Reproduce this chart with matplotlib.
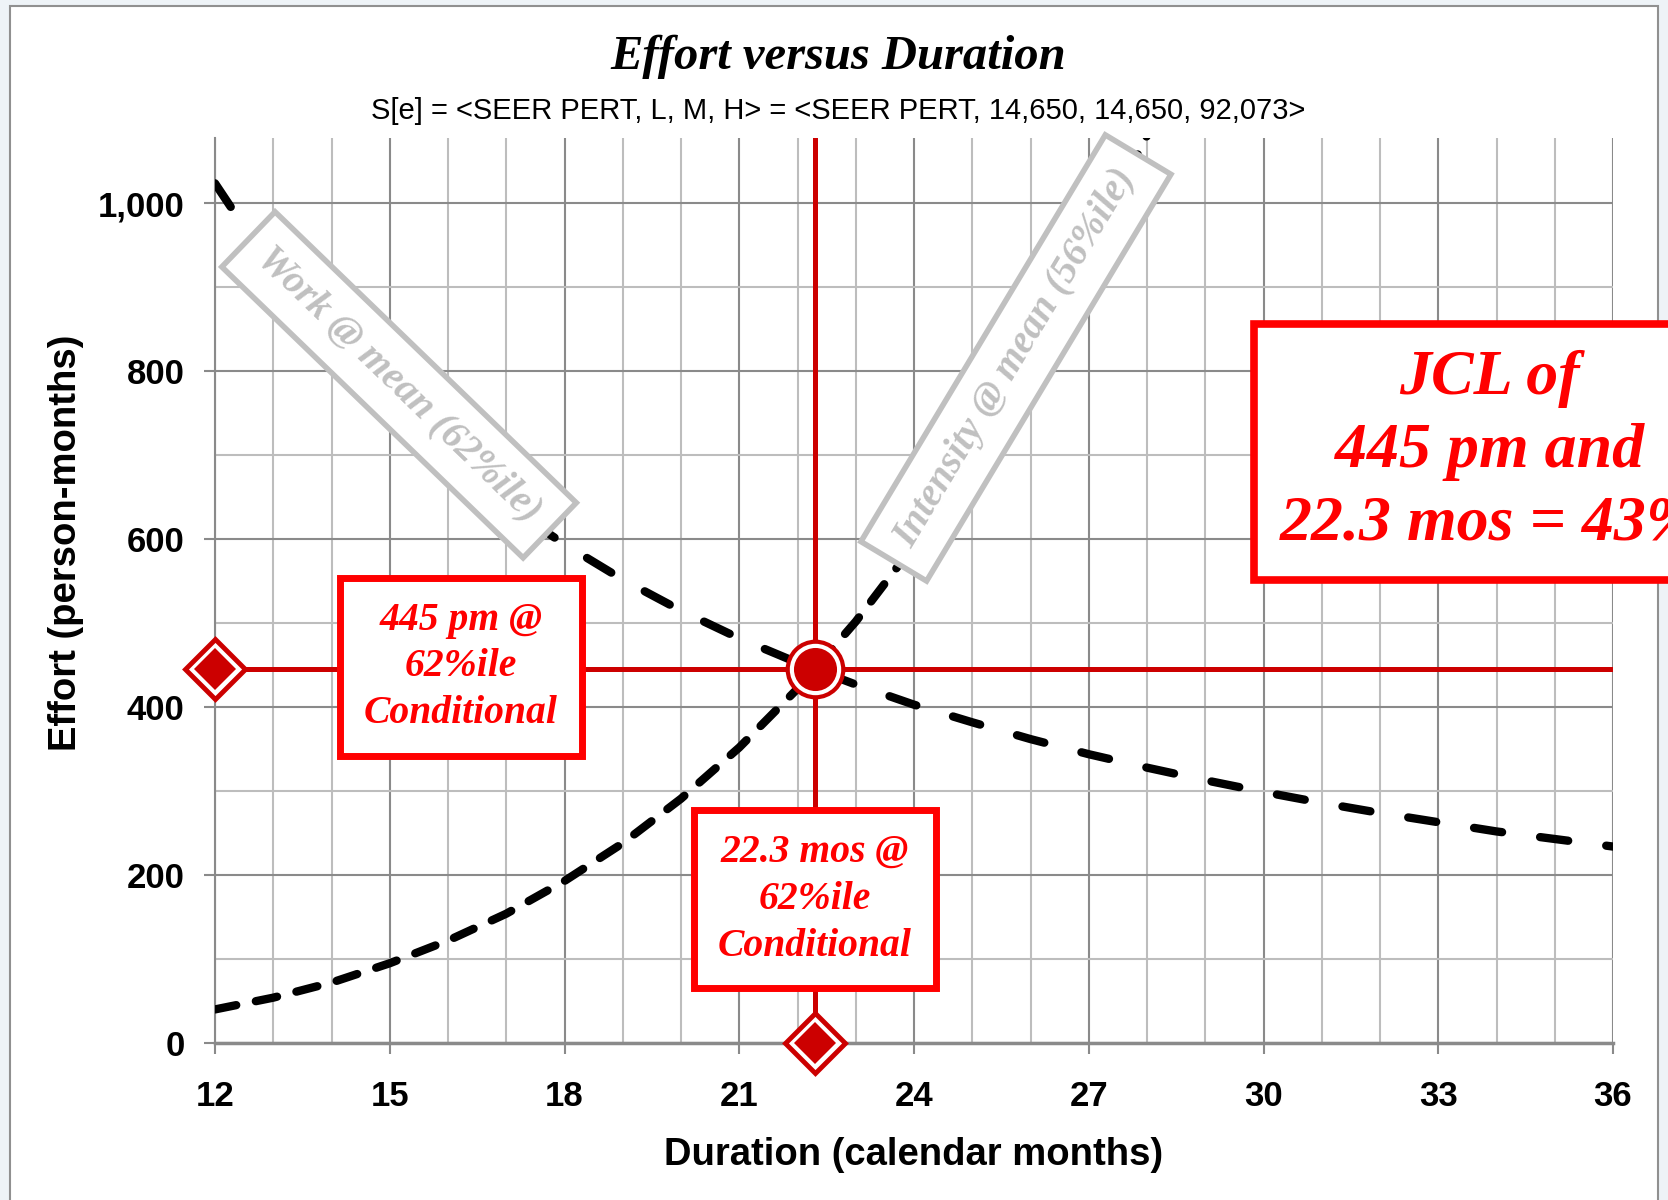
import matplotlib.pyplot as plt
from matplotlib.patches import Rectangle
from matplotlib.ticker import MultipleLocator, FuncFormatter

# durations (calendar months) and effort (person-months)
months = [12, 13, 14, 15, 16, 17, 18, 19, 20, 21, 22, 23, 24,
          25, 26, 27, 28, 29, 30, 31, 32, 33, 34, 35, 36]
work_effort = [1024, 920, 832, 759, 695, 641, 594, 552, 515, 482, 453, 427, 403,
               382, 362, 344, 328, 313, 299, 286, 274, 263, 252, 243, 234]

int_months = [12, 13, 14, 15, 16, 17, 18, 19, 20, 21, 22, 23, 24, 25, 26, 27, 28]
int_effort = [40, 54, 72, 95, 122, 154, 193, 238, 291, 352, 422, 502, 593, 695, 810, 938, 1081]

jcl_duration = 22.3
jcl_effort = 445

title = 'Effort versus Duration'
subtitle = 'S[e] = <SEER PERT, L, M, H> = <SEER PERT, 14,650, 14,650, 92,073>'

RED = '#cc0000'
BRIGHT = '#ff0000'
LGREY = '#c0c0c0'

fig = plt.figure(figsize=(16.68, 12), dpi=100)
fig.patch.set_facecolor('#eef3f7')
fig.add_artist(Rectangle((10 / 1668, -0.01), (1648 / 1668), 1 - 6 / 1200 + 0.01,
                         transform=fig.transFigure, facecolor='white',
                         edgecolor='#909090', lw=1.5, zorder=-5))

ax = fig.add_axes([215 / 1668, 1 - 1043 / 1200, 1398 / 1668, 905 / 1200])
ax.set_xlim(12, 36)
ax.set_ylim(0, 1078)

# grid
ax.xaxis.set_major_locator(MultipleLocator(3))
ax.xaxis.set_minor_locator(MultipleLocator(1))
ax.yaxis.set_major_locator(MultipleLocator(200))
ax.yaxis.set_minor_locator(MultipleLocator(100))
ax.grid(which='minor', color='#bdbdbd', lw=1.5, zorder=0)
ax.grid(which='major', color='#8a8a8a', lw=1.5, zorder=0)
ax.set_axisbelow(True)
for s in ['top', 'right']:
    ax.spines[s].set_visible(False)
ax.spines['left'].set_color('#8a8a8a')
ax.spines['left'].set_linewidth(1.5)
ax.spines['bottom'].set_color('#8a8a8a')
ax.spines['bottom'].set_linewidth(2.5)
ax.tick_params(which='major', length=8, width=1.5, color='#8a8a8a')
ax.tick_params(which='minor', length=0)
ax.tick_params(axis='y', pad=14)
ax.tick_params(axis='x', pad=19)
ax.yaxis.set_major_formatter(FuncFormatter(lambda v, p: f'{int(v):,}'))
for lab in ax.get_xticklabels() + ax.get_yticklabels():
    lab.set_fontfamily('Liberation Sans')
    lab.set_fontweight('bold')
    lab.set_fontsize(25)

# dashed curves
ax.plot(months, work_effort, color='black', lw=6, dashes=(3.4, 4.6),
        dash_capstyle='round', zorder=3)
ax.plot(int_months, int_effort, color='black', lw=6, dashes=(2.6, 2.4),
        dash_capstyle='round', zorder=3)

# curve labels
lab_font = dict(family='Liberation Serif', weight='bold', style='italic',
                fontsize=28.5, color=LGREY, ha='center', va='center',
                rotation_mode='anchor', zorder=4)
ax.text(15.16, 784, 'Work @ mean (62%ile)', rotation=-44,
        bbox=dict(boxstyle='square,pad=0.5', fc='white', ec=LGREY, lw=4), **lab_font)
ax.text(25.75, 816, 'Intensity @ mean (56%ile)', rotation=59,
        bbox=dict(boxstyle='square,pad=0.5', fc='white', ec=LGREY, lw=4), **lab_font)

# JCL cross-hairs
ax.plot([months[0], months[-1]], [jcl_effort, jcl_effort], color=RED, lw=3.6, zorder=5)
ax.plot([jcl_duration, jcl_duration], [0, 1078], color=RED, lw=3.6, zorder=5)

for mx, my in [(months[0], jcl_effort), (jcl_duration, 0)]:
    ax.plot([mx], [my], marker='D', ms=31, mfc='white', mec=RED, mew=3.5,
            clip_on=False, zorder=7)
    ax.plot([mx], [my], marker='D', ms=21, mfc=RED, mec=RED, mew=0,
            clip_on=False, zorder=8)
ax.plot([jcl_duration], [jcl_effort], marker='o', ms=40, mfc='white', mec=RED, mew=3,
        zorder=7)
ax.plot([jcl_duration], [jcl_effort], marker='o', ms=31, mfc=RED, mec=RED, mew=0,
        zorder=8)

red_font = dict(family='Liberation Serif', weight='bold', style='italic',
                color=BRIGHT, ha='center', va='center', zorder=9)
ax.text(16.22, 448, '445 pm @\n62%ile\nConditional', fontsize=28.5, linespacing=1.35,
        bbox=dict(boxstyle='square,pad=0.6', fc='white', ec=BRIGHT, lw=5), **red_font)
ax.text(22.3, 171, '22.3 mos @\n62%ile\nConditional', fontsize=28.5, linespacing=1.35,
        bbox=dict(boxstyle='square,pad=0.6', fc='white', ec=BRIGHT, lw=5), **red_font)
ax.text(33.88, 704, 'JCL of\n445 pm and\n22.3 mos = 43%', fontsize=46, linespacing=1.34,
        bbox=dict(boxstyle='square,pad=0.4', fc='white', ec=BRIGHT, lw=5.5), **red_font)

# titles and axis labels
fig.text(838 / 1668, 1 - 57 / 1200, title, family='Liberation Serif', weight='bold',
         style='italic', fontsize=35, ha='center', va='center')
fig.text(838 / 1668, 1 - 111 / 1200, subtitle, family='Liberation Sans',
         fontsize=21, ha='center', va='center')
fig.text(914 / 1668, 1 - 1155 / 1200, 'Duration (calendar months)', family='Liberation Sans',
         weight='bold', fontsize=27.5, ha='center', va='center')
fig.text(66 / 1668, 1 - 543 / 1200, 'Effort (person-months)', family='Liberation Sans',
         weight='bold', fontsize=27.5, ha='center', va='center', rotation=90)

fig.savefig('out.png', dpi=100, facecolor=fig.get_facecolor())
